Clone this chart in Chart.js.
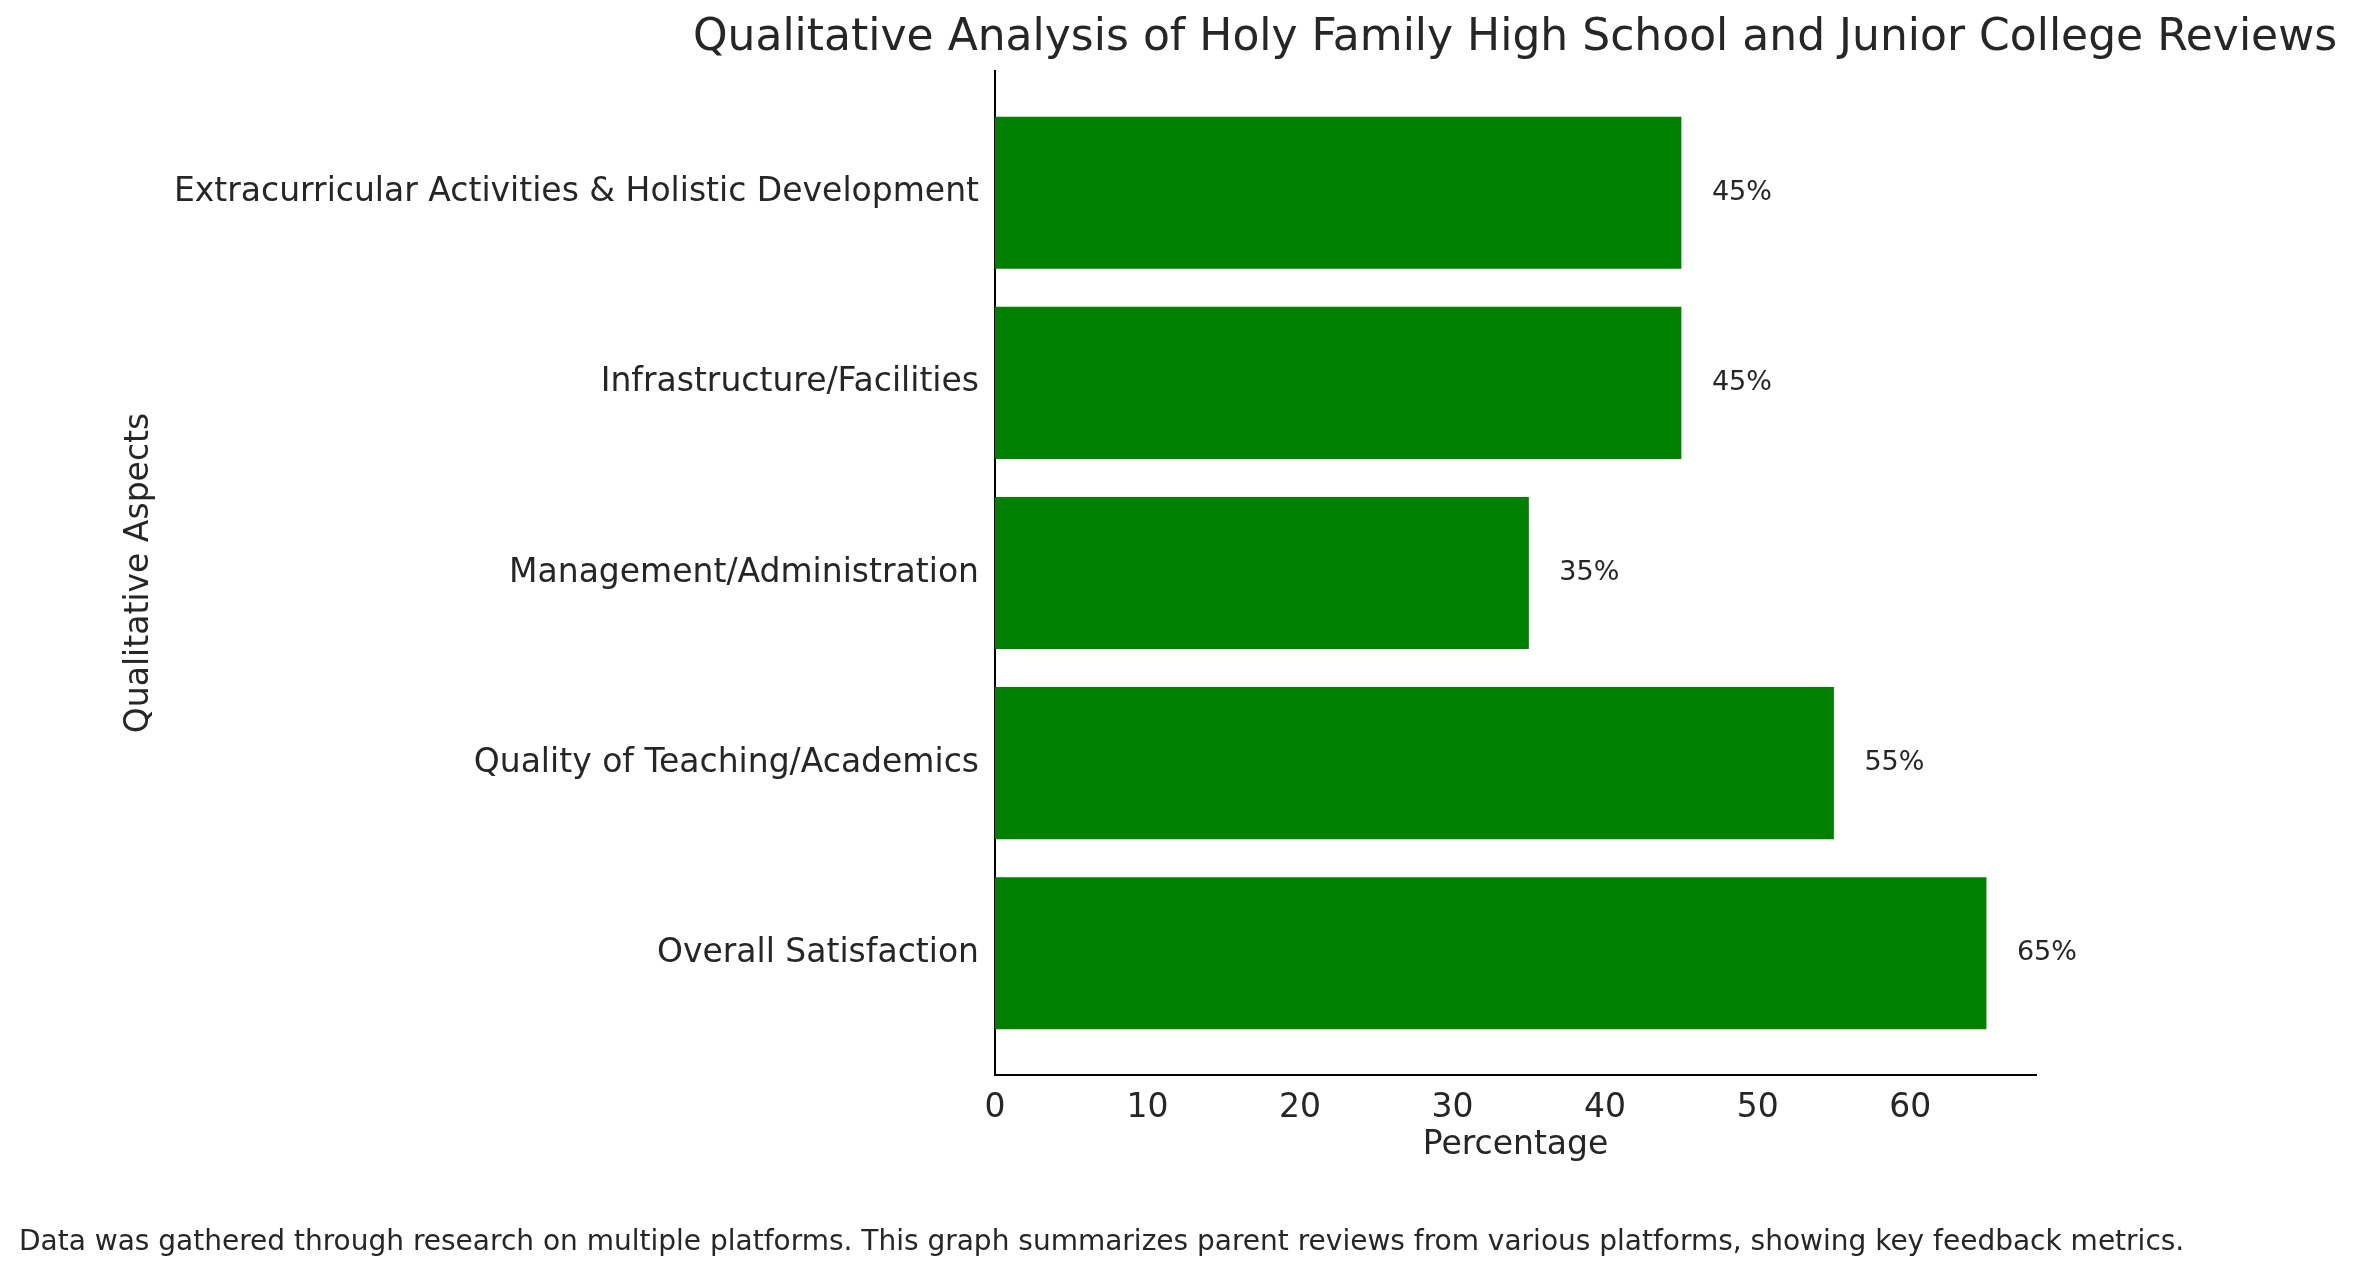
<!DOCTYPE html>
<html>
<head>
<meta charset="utf-8">
<script src="https://cdn.jsdelivr.net/npm/chart.js@4"></script>
<style>
  html, body { margin: 0; padding: 0; background: #fff; }
  #wrap { width: 2362px; height: 1276px; }
</style>
</head>
<body>
<div id="wrap"><canvas id="myChart" width="2362" height="1276"></canvas></div>
<script>
// Datos (de abajo hacia arriba)
const categorias = ['Overall Satisfaction', 'Quality of Teaching/Academics', 'Management/Administration',
  'Infrastructure/Facilities', 'Extracurricular Activities & Holistic Development'];
const valores = [65, 55, 35, 45, 45];
const ticksX = [0, 10, 20, 30, 40, 50, 60];

const fuente = "'DejaVu Sans', sans-serif";

// Textos extra: título, ejes, nota y etiquetas de valor
const textos = {
  id: 'textos',
  afterDraw(chart) {
    const ctx = chart.ctx;
    const area = chart.chartArea;
    const sx = chart.scales.x, sy = chart.scales.y;
    ctx.save();
    ctx.fillStyle = '#262626';
    ctx.textBaseline = 'middle';
    ctx.textAlign = 'center';
    ctx.font = '44px ' + fuente;
    ctx.fillText('Qualitative Analysis of Holy Family High School and Junior College Reviews', 1515, 39);
    ctx.font = '33px ' + fuente;
    ctx.fillText('Percentage', (area.left + area.right) / 2, 1145);
    ctx.save();
    ctx.translate(139, (area.top + area.bottom) / 2);
    ctx.rotate(-Math.PI / 2);
    ctx.fillText('Qualitative Aspects', 0, 0);
    ctx.restore();
    ctx.textAlign = 'left';
    ctx.font = '28px ' + fuente;
    ctx.fillText('Data was gathered through research on multiple platforms. This graph summarizes parent reviews from various platforms, showing key feedback metrics.', 19, 1243);
    ctx.font = '27px ' + fuente;
    valores.forEach((v, i) => {
      ctx.fillText(v + '%', sx.getPixelForValue(v + 2), sy.getPixelForValue(i));
    });
    ctx.restore();
  }
};

const ctx = document.getElementById('myChart').getContext('2d');
const myChart = new Chart(ctx, {
  type: 'bar',
  data: {
    datasets: [{
      data: valores.map((v, i) => ({ x: v, y: i })),
      backgroundColor: '#008000',
      barPercentage: 0.8,
      categoryPercentage: 1.0,
    }]
  },
  options: {
    indexAxis: 'y',
    responsive: false,
    animation: false,
    layout: { padding: { top: 71, right: 326, left: 0, bottom: 0 } },
    plugins: { legend: { display: false }, tooltip: { enabled: false } },
    scales: {
      x: {
        type: 'linear',
        min: 0, max: 68.25,
        grid: { display: false, drawTicks: true, tickLength: 10, tickColor: '#000' },
        border: { color: '#000', width: 2 },
        afterBuildTicks: s => { s.ticks = ticksX.map(v => ({ value: v })); },
        ticks: { color: '#262626', font: { family: fuente, size: 33 }, padding: 4 },
        afterFit: s => { s.height = 201; }
      },
      y: {
        type: 'linear',
        offset: false,
        min: -0.64, max: 4.64,
        grid: { display: false, drawTicks: true, tickLength: 10, tickColor: '#000', offset: false },
        border: { color: '#000', width: 2 },
        afterBuildTicks: s => { s.ticks = categorias.map((c, i) => ({ value: i })); },
        ticks: {
          color: '#262626', font: { family: fuente, size: 33 }, padding: 6,
          callback: v => categorias[v]
        },
        afterFit: s => { s.width = 995; }
      }
    }
  },
  plugins: [textos]
});
</script>
</body>
</html>
